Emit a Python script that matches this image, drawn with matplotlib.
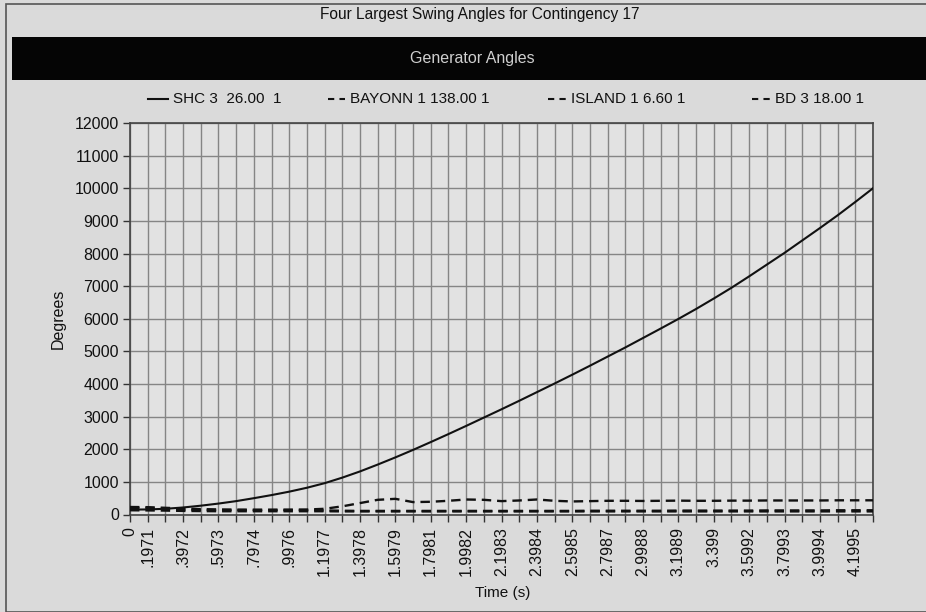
import matplotlib
matplotlib.use("Agg")
import matplotlib.pyplot as plt
from matplotlib.lines import Line2D
from matplotlib.patches import Rectangle

plt.rcParams['font.family'] = ['Liberation Sans', 'DejaVu Sans']

# Sample points along the time axis (one per simulation output step)
n_points = 43
tick_index = [0, 1, 3, 5, 7, 9, 11, 13, 15, 17, 19, 21, 23, 25, 27, 29, 31, 33, 35, 37, 39, 41]
tick_labels = ['0', '.1971', '.3972', '.5973', '.7974', '.9976', '1.1977', '1.3978',
               '1.5979', '1.7981', '1.9982', '2.1983', '2.3984', '2.5985', '2.7987',
               '2.9988', '3.1989', '3.399', '3.5992', '3.7993', '3.9994', '4.1995']

series_names = ['SHC 3  26.00  1', 'BAYONN 1 138.00 1', 'ISLAND 1 6.60 1', 'BD 3 18.00 1']

shc = [150, 155, 175, 215, 270, 335, 410, 500, 595, 700, 820, 960, 1130, 1320, 1530,
       1750, 1980, 2220, 2465, 2715, 2970, 3225, 3485, 3750, 4015, 4285, 4560, 4840,
       5120, 5410, 5700, 5995, 6300, 6620, 6950, 7300, 7660, 8020, 8400, 8780, 9170,
       9580, 10000]
bayonn = [230, 225, 205, 185, 165, 155, 150, 148, 148, 150, 152, 175, 250, 350, 450,
          480, 380, 390, 420, 460, 450, 410, 430, 460, 420, 400, 410, 420, 420, 415,
          420, 425, 420, 420, 425, 425, 430, 430, 430, 430, 435, 435, 435]
island = [200, 190, 170, 150, 140, 135, 135, 135, 135, 135, 135, 125, 115, 110, 110,
          110, 110, 110, 110, 110, 110, 110, 110, 110, 110, 110, 115, 115, 115, 115,
          115, 120, 120, 120, 120, 120, 125, 125, 125, 125, 130, 130, 130]
bd = [130, 125, 120, 110, 105, 100, 100, 100, 100, 100, 100, 100, 95, 95, 95, 95, 95,
      95, 95, 95, 95, 95, 95, 95, 95, 95, 95, 95, 95, 95, 95, 95, 95, 95, 95, 95, 95,
      95, 95, 95, 95, 95, 95]

y_ticks = list(range(0, 12001, 1000))

W, H = 926, 612
fig = plt.figure(figsize=(W / 100, H / 100), dpi=100, facecolor='#dadada')

# outer panel frame
fig.patches.append(Rectangle((6 / W, 0), 1.2, 1 - 4 / H, transform=fig.transFigure,
                             fill=False, edgecolor='#555555', linewidth=1.2))
# dark header band
fig.patches.append(Rectangle((12 / W, 1 - 80 / H), 1.0, 43 / H, transform=fig.transFigure,
                             facecolor='#050505', edgecolor='none'))

fig.text(480 / W, 1 - 14 / H, 'Four Largest Swing Angles for Contingency 17',
         ha='center', va='center', fontsize=11.2, color='#111111')
fig.text(472 / W, 1 - 59 / H, 'Generator Angles', ha='center', va='center',
         fontsize=11.5, color='#cfcfcf')

ax = fig.add_axes([130 / W, 1 - 514.5 / H, (873 - 130) / W, (514.5 - 123) / H])
ax.set_facecolor('#e2e2e2')

x = list(range(n_points))
dash = (4, 2.5)
ax.plot(x, shc, color='#111111', lw=1.5, zorder=4)
ax.plot(x, bayonn, color='#111111', lw=1.7, dashes=dash, zorder=3)
ax.plot(x, island, color='#111111', lw=1.7, dashes=dash, zorder=3)
ax.plot(x, bd, color='#111111', lw=1.7, dashes=dash, zorder=3)

ax.set_xlim(0, n_points - 1)
ax.set_ylim(0, 12000)
ax.set_xticks(tick_index)
ax.set_xticklabels(tick_labels, rotation=90, fontsize=11.5, color='#111111')
ax.set_xticks(x, minor=True)
ax.tick_params(axis='x', which='both', length=5, width=1, color='#333333',
               direction='out', pad=4)
ax.set_yticks(y_ticks)
ax.set_yticklabels([str(v) for v in y_ticks], fontsize=11.5, color='#111111')
ax.tick_params(axis='y', length=5, width=1, color='#333333', direction='out', pad=3)

ax.grid(True, which='both', color='#858585', linewidth=1.0)
ax.set_axisbelow(True)
for s in ax.spines.values():
    s.set_color('#444444')
    s.set_linewidth(1.2)

ax.set_ylabel('Degrees', fontsize=11.5, labelpad=6, color='#111111')
fig.text(503 / W, 1 - 593 / H, 'Time (s)', ha='center', va='center', fontsize=11,
         color='#111111')

# legend row
legend_items = [(148, 168, False), (328, 345, True), (548, 566, True), (752, 770, True)]
for (x0, x1, dashed), name in zip(legend_items, series_names):
    y = 1 - 99 / H
    ln = Line2D([x0 / W, x1 / W], [y, y], transform=fig.transFigure, color='#111111',
                lw=1.5)
    if dashed:
        ln.set_dashes((3, 2.5))
    fig.lines.append(ln)
    fig.text((x1 + 5) / W, y, name, ha='left', va='center', fontsize=11, color='#111111')

fig.savefig('out.png', dpi=100, facecolor=fig.get_facecolor())
